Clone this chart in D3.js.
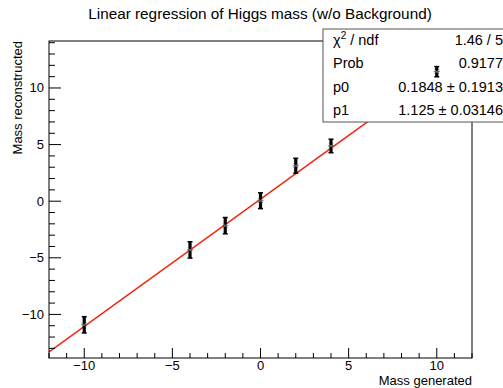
<!DOCTYPE html>
<html><head><meta charset="utf-8">
<script src="https://cdn.jsdelivr.net/npm/d3@7"></script>
<style>body{margin:0;background:#fff}svg{display:block}text{font-family:"Liberation Sans",Arial,sans-serif;fill:#000}</style>
</head><body><svg id="c" width="503" height="388"></svg>
<script>
const massGenerated = [-10, -4, -2, 0, 2, 4, 10];
const massReconstructed = [-10.92, -4.3, -2.16, 0.04, 3.13, 4.88, 11.44];
const errors = [0.72, 0.72, 0.72, 0.7, 0.66, 0.6, 0.45];
const fitP0 = 0.1848, fitP1 = 1.125;
const xTicks = [-10, -5, 0, 5, 10];
const yTicks = [-10, -5, 0, 5, 10];
const statLabels = ["χ2 / ndf", "Prob", "p0", "p1"];
const statValues = ["1.46 / 5", "0.9177", "0.1848 ± 0.1913", "1.125 ± 0.03146"];

const svg = d3.select("#c");
const L = 49, R = 472, T = 41, B = 358;
const x = d3.scaleLinear().domain([-12, 12]).range([L, R]);
const y = d3.scaleLinear().domain([-13.85, 14.15]).range([B, T]);

// title
svg.append("text").attr("x", 260).attr("y", 19).attr("text-anchor", "middle")
  .attr("font-size", 15.3).text("Linear regression of Higgs mass (w/o Background)");

// fit line
svg.append("clipPath").attr("id", "fr").append("rect")
  .attr("x", L).attr("y", T).attr("width", R - L).attr("height", B - T);
svg.append("line").attr("clip-path", "url(#fr)")
  .attr("x1", x(-12)).attr("y1", y(fitP0 + fitP1 * -12))
  .attr("x2", x(12)).attr("y2", y(fitP0 + fitP1 * 12))
  .attr("stroke", "#f5200a").attr("stroke-width", 1.5);

// frame
svg.append("rect").attr("x", L).attr("y", T).attr("width", R - L).attr("height", B - T)
  .attr("fill", "none").attr("stroke", "#000").attr("stroke-width", 1);

// x axis ticks (inside, upward)
const xAxis = svg.append("g");
d3.range(-12, 13, 1).forEach(v => {
  const major = v % 5 === 0;
  xAxis.append("line").attr("x1", x(v)).attr("x2", x(v)).attr("y1", B).attr("y2", B - (major ? 10 : 5))
    .attr("stroke", "#000").attr("stroke-width", 1);
});
xTicks.forEach(v => {
  xAxis.append("text").attr("x", x(v)).attr("y", 370).attr("text-anchor", "middle")
    .attr("font-size", 13).text(String(v).replace("-", "\u2212"));
});
svg.append("text").attr("x", R).attr("y", 385).attr("text-anchor", "end")
  .attr("font-size", 13).text("Mass generated");

// y axis ticks (inside, rightward)
const yAxis = svg.append("g");
d3.range(-13, 15, 1).forEach(v => {
  const major = v % 5 === 0;
  yAxis.append("line").attr("y1", y(v)).attr("y2", y(v)).attr("x1", L).attr("x2", L + (major ? 12 : 6))
    .attr("stroke", "#000").attr("stroke-width", 1);
});
yTicks.forEach(v => {
  yAxis.append("text").attr("x", 44).attr("y", y(v) + 4.5).attr("text-anchor", "end")
    .attr("font-size", 13).text(String(v).replace("-", "\u2212"));
});
svg.append("text").attr("transform", `translate(22,${T}) rotate(-90)`).attr("text-anchor", "end")
  .attr("font-size", 13).text("Mass reconstructed");

// stat box
const sbX = 323, sbY = 29, sbB = 122;
svg.append("rect").attr("x", sbX).attr("y", sbY).attr("width", 503 - sbX + 5).attr("height", sbB - sbY)
  .attr("fill", "#fff").attr("stroke", "#555").attr("stroke-width", 1);
const rowH = (sbB - sbY) / 4;
statLabels.forEach((lab, i) => {
  const ty = sbY + rowH * i + rowH / 2 + 4.5;
  const t = svg.append("text").attr("x", 333).attr("y", ty).attr("font-size", 14.5);
  if (i === 0) {
    t.append("tspan").text("χ");
    t.append("tspan").attr("font-size", 10).attr("dy", -6).text("2");
    t.append("tspan").attr("dy", 6).text(" / ndf");
  } else t.text(lab);
  svg.append("text").attr("x", 503).attr("y", ty).attr("text-anchor", "end")
    .attr("font-size", 14.5).text(statValues[i]);
});

// data points with error bars
const pts = svg.append("g");
massGenerated.forEach((g, i) => {
  const cx = x(g), cy = y(massReconstructed[i]);
  const y0 = y(massReconstructed[i] - errors[i]), y1 = y(massReconstructed[i] + errors[i]);
  pts.append("line").attr("x1", cx).attr("x2", cx).attr("y1", y0).attr("y2", y1)
    .attr("stroke", "#000").attr("stroke-width", 3.2);
  [y0, y1].forEach(yy => pts.append("line").attr("x1", cx - 2.5).attr("x2", cx + 2.5)
    .attr("y1", yy).attr("y2", yy).attr("stroke", "#000").attr("stroke-width", 1.5));
  [[-3, 0, 3, 0], [-2.2, -2.2, 2.2, 2.2], [-2.2, 2.2, 2.2, -2.2]].forEach(s =>
    pts.append("line").attr("x1", cx + s[0]).attr("y1", cy + s[1]).attr("x2", cx + s[2]).attr("y2", cy + s[3])
      .attr("stroke", "#666").attr("stroke-width", 1));
});
</script></body></html>
